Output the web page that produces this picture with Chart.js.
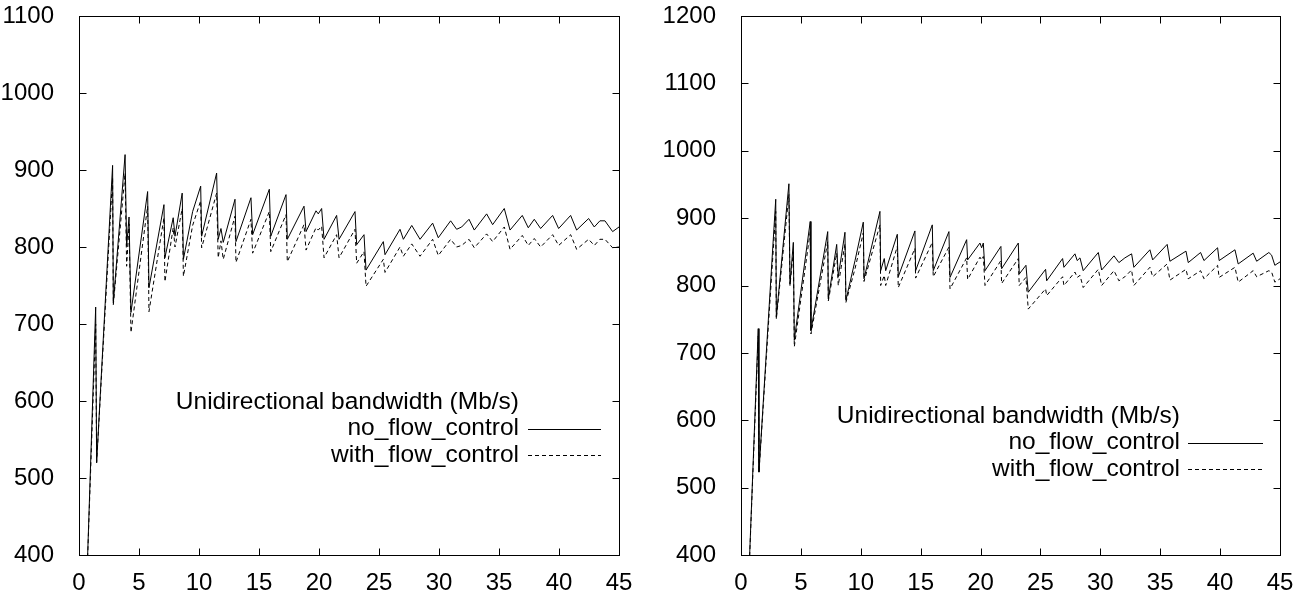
<!DOCTYPE html>
<html><head><meta charset="utf-8">
<script src="https://cdn.jsdelivr.net/npm/chart.js@4.4.0/dist/chart.umd.min.js"></script>
<style>
html,body{margin:0;padding:0;background:#fff;width:1310px;height:593px;overflow:hidden}
.box{position:absolute;top:0;height:593px}
#b1{left:0;width:640px}
#b2{left:660px;width:650px}
canvas{display:block}
</style></head><body>
<div class="box" id="b1"><canvas id="c1"></canvas></div>
<div class="box" id="b2"><canvas id="c2"></canvas></div>
<script>
// ---------- data ----------
const xTicks = [0,5,10,15,20,25,30,35,40,45];
const leftYTicks = [400,500,600,700,800,900,1000,1100];
const rightYTicks = [400,500,600,700,800,900,1000,1100,1200];
const legendTitle = 'Unidirectional bandwidth (Mb/s)';
const seriesNames = ['no_flow_control','with_flow_control'];

const leftX = [0.7,1.39,1.47,2.80,2.86,3.84,3.97,4.17,4.33,5.72,5.83,7.08,7.16,7.85,8.0,8.6,8.7,9.47,10.14,10.22,
  11.47,11.6,11.83,12.02,13.0,13.08,14.33,14.47,15.86,15.98,17.25,17.36,18.75,18.92,19.75,19.94,20.22,20.42,21.47,21.67,
  23.0,23.14,23.75,23.92,25.36,25.5,26.75,27.03,27.73,28.42,29.47,29.94,30.97,31.47,31.89,32.5,32.94,33.97,34.47,35.44,
  35.92,36.94,37.44,37.94,38.47,39.47,39.97,40.97,41.47,42.47,42.94,43.41,43.83,44.47,45.0];
const leftNoFlow = [390,722,520,906,727,920,801,839,715,872,747,855,786,838,814,870,784,846,879,814,
  896,810,824,806,862,807,864,816,875,814,868,810,853,820,847,843,850,810,841,810,
  846,803,816,770,807,790,823,810,828,810,831,812,834,823,826,836,822,843,829,850,
  822,841,825,836,824,841,824,841,822,837,826,834,834,820,826];
const leftWithFlow = [388,700,520,890,725,896,775,830,689,853,716,838,755,825,800,850,762,828,860,799,
  870,786,808,784,840,780,836,792,846,794,842,781,829,796,825,822,827,786,816,786,
  823,779,794,749,784,767,800,788,804,788,810,789,810,800,802,810,799,817,807,826,
  797,815,802,811,800,816,802,816,797,810,802,810,810,799,800];

const rightX = [0.7,1.44,1.50,2.90,2.95,4.0,4.09,4.37,4.45,5.78,5.84,7.24,7.29,7.99,8.12,8.68,8.76,9.52,10.21,10.27,
  11.6,11.66,11.96,12.08,13.05,13.13,14.52,14.58,15.97,16.05,17.36,17.45,18.84,18.92,19.95,20.09,20.23,20.37,21.7,21.76,
  23.15,23.23,23.79,23.98,25.43,25.52,26.85,26.96,27.88,28.07,28.3,28.57,29.83,30.11,31.14,31.55,32.05,32.61,32.8,34.14,
  34.37,35.58,35.81,37.15,37.34,38.37,38.65,39.79,39.92,41.24,41.51,42.76,43.05,44.07,44.3,44.57,45.0];
const rightNoFlow = [390,736,523,928,753,951,802,864,719,895,733,880,780,861,813,879,778,837,894,810,
  910,822,840,822,876,813,881,822,890,822,880,812,868,838,863,856,863,822,858,825,
  863,817,830,790,824,807,840,827,847,837,841,822,849,823,844,834,841,847,827,853,
  838,861,836,851,834,849,837,856,837,853,832,848,836,849,845,830,835];
const rightWithFlow = [388,725,523,910,750,935,800,850,709,880,728,865,777,848,800,862,775,825,878,806,
  890,800,815,800,858,797,855,811,864,813,857,795,841,809,842,838,843,800,837,803,
  840,800,812,765,795,785,813,800,820,812,815,797,824,800,822,807,813,823,800,827,
  813,832,808,824,810,822,810,830,812,827,805,822,813,822,820,805,810];

// ---------- drawing ----------
const FONT = '"Liberation Sans", Arial, Helvetica, sans-serif';

const gnuPlugin = {
  id: 'gnu',
  afterDraw(chart, args, opts) {
    const {ctx, chartArea: a, scales: {x, y}} = chart;
    ctx.save();
    ctx.strokeStyle = '#000';
    ctx.lineWidth = 1;
    ctx.setLineDash([]);
    const l = Math.round(a.left) + 0.5, r = Math.round(a.right) + 0.5;
    const t = Math.round(a.top) + 0.5, b = Math.round(a.bottom) + 0.5;
    ctx.strokeRect(l, t, r - l, b - t);
    const L = 7;
    ctx.beginPath();
    x.ticks.forEach(tk => {
      const px = Math.round(x.getPixelForValue(tk.value)) + 0.5;
      ctx.moveTo(px, b); ctx.lineTo(px, b - L);
      ctx.moveTo(px, t); ctx.lineTo(px, t + L);
    });
    y.ticks.forEach(tk => {
      const py = Math.round(y.getPixelForValue(tk.value)) + 0.5;
      ctx.moveTo(l, py); ctx.lineTo(l + L, py);
      ctx.moveTo(r, py); ctx.lineTo(r - L, py);
    });
    ctx.stroke();

    ctx.font = opts.size + 'px ' + FONT;
    ctx.fillStyle = '#000';
    ctx.textAlign = 'right';
    ctx.textBaseline = 'middle';
    ctx.fillText(legendTitle, opts.textRight, opts.y0);
    chart.data.datasets.forEach((ds, i) => {
      const yy = opts.y0 + opts.dy * (i + 1);
      ctx.fillText(ds.label, opts.textRight, yy);
      ctx.setLineDash(ds.borderDash || []);
      ctx.beginPath();
      ctx.moveTo(opts.s0, Math.round(yy) + 0.5);
      ctx.lineTo(opts.s1, Math.round(yy) + 0.5);
      ctx.stroke();
    });
    ctx.restore();
  }
};

function makeChart(id, xs, s1, s2, yTicks, yAxisWidth, padRight, legendCfg) {
  const pts = ys => xs.map((xv, i) => ({x: xv, y: ys[i]}));
  return new Chart(document.getElementById(id), {
    type: 'line',
    data: {datasets: [
      {label: seriesNames[0], data: pts(s1), borderColor: '#000', borderWidth: 1, pointRadius: 0, tension: 0, fill: false},
      {label: seriesNames[1], data: pts(s2), borderColor: '#000', borderWidth: 1, borderDash: [4, 3], pointRadius: 0, tension: 0, fill: false}
    ]},
    options: {
      responsive: true, maintainAspectRatio: false, animation: false,
      layout: {padding: {top: 16, right: padRight, left: 0, bottom: 0}},
      plugins: {legend: {display: false}, tooltip: {enabled: false}, gnu: legendCfg},
      scales: {
        x: {type: 'linear', min: xTicks[0], max: xTicks[xTicks.length - 1],
            afterBuildTicks(s) { s.ticks = xTicks.map(v => ({value: v})); },
            ticks: {color: '#000', font: {family: FONT, size: 24}, padding: 6, maxRotation: 0, autoSkip: false,
                    callback: v => String(v)},
            grid: {display: false}, border: {display: false},
            afterFit(s) { s.height = 38; s.paddingLeft = 0; s.paddingRight = 0; }},
        y: {type: 'linear', min: yTicks[0], max: yTicks[yTicks.length - 1],
            afterBuildTicks(s) { s.ticks = yTicks.map(v => ({value: v})); },
            ticks: {color: '#000', font: {family: FONT, size: 24}, padding: 17, autoSkip: false,
                    callback: v => String(v)},
            grid: {display: false}, border: {display: false},
            afterFit(s) { s.width = yAxisWidth; s.paddingTop = 0; s.paddingBottom = 0; }}
      }
    },
    plugins: [gnuPlugin]
  });
}

makeChart('c1', leftX, leftNoFlow, leftWithFlow, leftYTicks, 79, 21,
  {size: 24.5, textRight: 519, y0: 402, dy: 26.5, s0: 528, s1: 601});
makeChart('c2', rightX, rightNoFlow, rightWithFlow, rightYTicks, 81, 30,
  {size: 24.5, textRight: 520, y0: 416, dy: 26.5, s0: 528, s1: 603});
</script>
</body></html>
